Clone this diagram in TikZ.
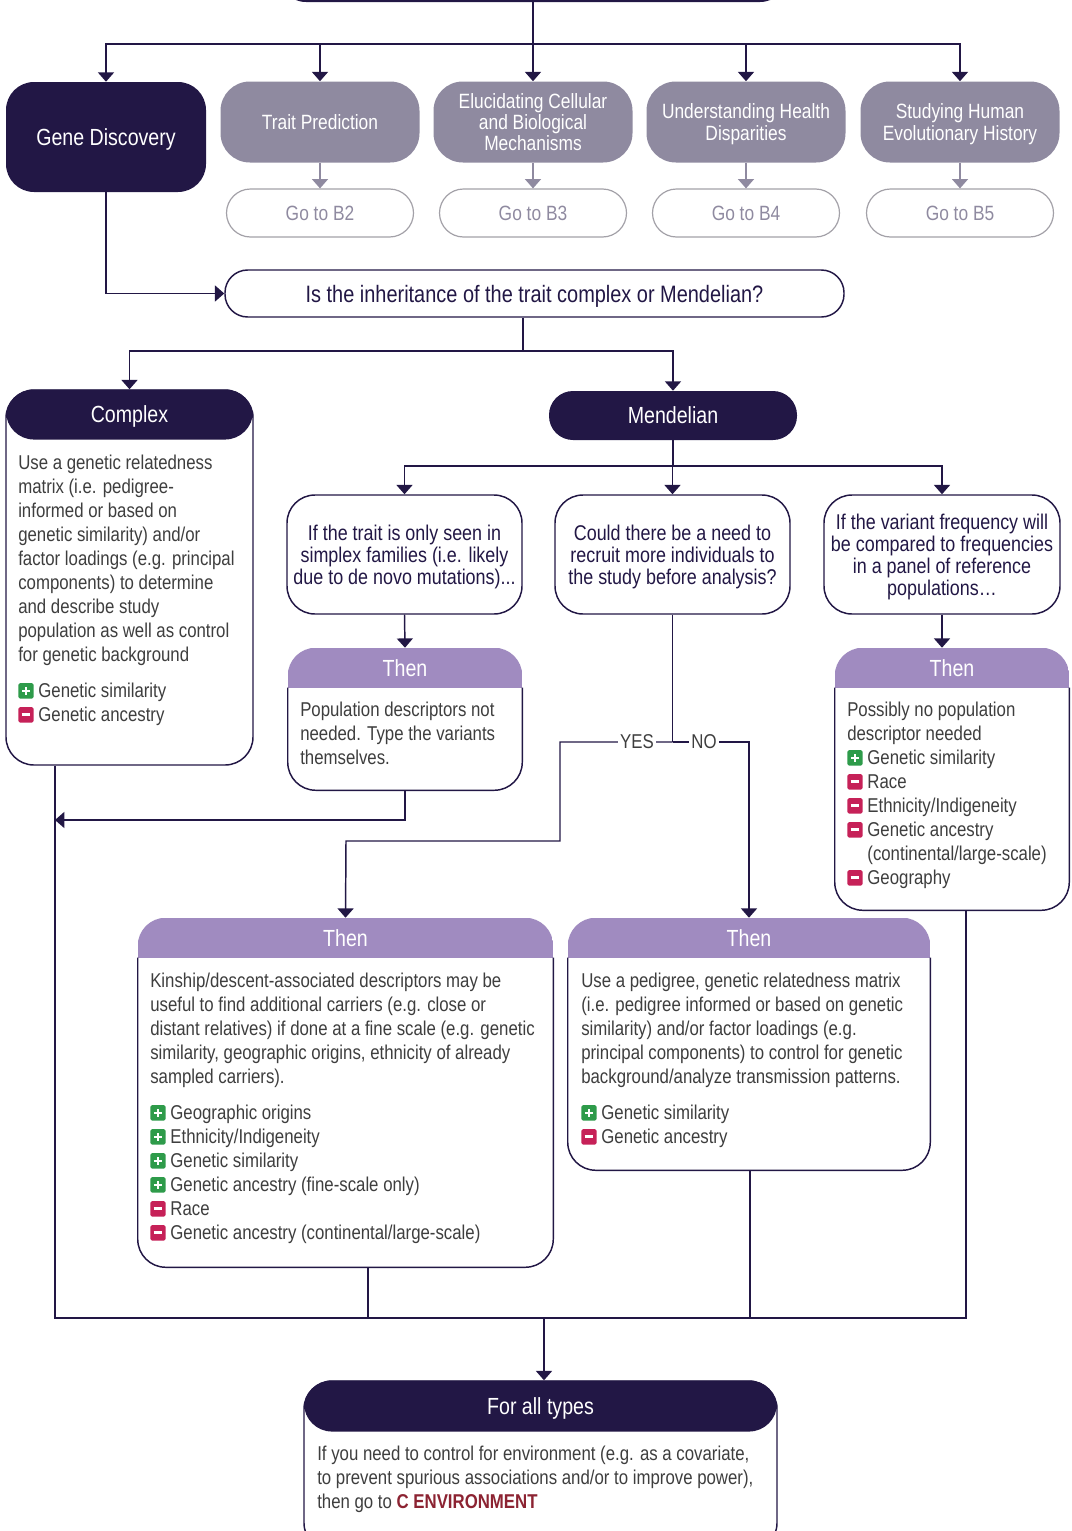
\documentclass[tikz,border=0pt]{standalone}
\usepackage{fontspec}
\setmainfont[FakeStretch=0.84]{Liberation Sans}
\usetikzlibrary{arrows.meta,calc,positioning}

\definecolor{navy}{HTML}{221745}
\definecolor{slate}{HTML}{8F8AA0}
\definecolor{gobord}{HTML}{A3A1A8}
\definecolor{lilac}{HTML}{A08BC0}
\definecolor{bodygrey}{HTML}{3E3E3E}
\definecolor{okgreen}{HTML}{2E9B4A}
\definecolor{badred}{HTML}{C62158}
\definecolor{envred}{HTML}{8C2332}

\newcommand{\txtbody}{\fontsize{15pt}{18pt}\selectfont}
\newcommand{\txthead}{\fontsize{17.5pt}{20pt}\selectfont}
\newcommand{\txtq}{\fontsize{16pt}{16.5pt}\selectfont}
\newcommand{\txttop}{\fontsize{15.5pt}{16pt}\selectfont}

\newcommand{\pluspic}{\tikz[baseline=0pt,x=1pt,y=1pt,line width=1.8pt]{\fill[okgreen,rounded corners=1.3pt] (0,-0.6) rectangle (11.6,11); \draw[white] (2.7,5.2) -- (8.9,5.2) (5.8,2.1) -- (5.8,8.3);}}
\newcommand{\minuspic}{\tikz[baseline=0pt,x=1pt,y=1pt,line width=2.1pt]{\fill[badred,rounded corners=1.3pt] (0,-0.6) rectangle (11.6,11); \draw[white] (2.5,5.2) -- (9.1,5.2);}}

\newcommand{\thenhead}[2]{%
  \begin{scope}
    \clip[rounded corners=21pt] (#1.north west) rectangle (#1.south east);
    \fill[lilac] (#1.north west) rectangle ($(#1.north east)+(0,40)$);
  \end{scope}
  \draw[conn, rounded corners=21pt] ($(#1.north west)+(0,40)$) -- (#1.south west) -- (#1.south east) -- ($(#1.north east)+(0,40)$);
  \node[headtxt] (#1head) at ($(#1.north)+(0,20)$) {#2};
}

\tikzset{
  conn/.style={draw=navy, line width=1.1pt},
  arr/.style={conn, -{Triangle[width=12pt,length=7pt]}},
  garr/.style={draw=slate, line width=1.1pt, -{Triangle[width=12pt,length=7pt]}},
  darkbox/.style={fill=navy, text=white, rounded corners=21pt, font=\txthead, inner sep=0pt, text depth=0pt},
  topbox/.style={fill=slate, text=white, rounded corners=22pt, font=\txttop, align=center, minimum width=149.25pt, minimum height=60.75pt, inner sep=0pt, text depth=0pt},
  gobox/.style={draw=gobord, line width=0.9pt, text=slate, rounded corners=18pt, font=\txttop, minimum width=140.25pt, minimum height=36pt, text depth=0pt},
  qbox/.style={draw=navy, line width=1.1pt, fill=white, text=navy, rounded corners=21pt, font=\txtq, align=center, inner sep=0pt, text depth=0pt},
  card/.style={fill=white, inner sep=0pt},
  headtxt/.style={text=white, font=\txthead, inner sep=0pt, text depth=0pt},
  body/.style={text=bodygrey, font=\txtbody, align=left, inner sep=0pt, anchor=north west},
  ynlabel/.style={fill=white, text=bodygrey, font=\txtbody, inner sep=1.5pt}
}

\begin{document}
\begin{tikzpicture}[x=0.75pt, y=-0.75pt]
  \useasboundingbox (0,0) rectangle (1071,1531);
  \clip (0,0) rectangle (1071,1531);

  \node[darkbox, minimum width=382.5pt, minimum height=60pt] (top) at (533,-38) {};

  \node[darkbox, minimum width=150pt, minimum height=82.5pt] (gd) at (106,137) {Gene Discovery};
  \node[topbox] (tp) at (320,122) {Trait Prediction};
  \node[topbox] (ec) at (533,122) {Elucidating Cellular\\and Biological\\Mechanisms};
  \node[topbox] (uh) at (746,122) {Understanding Health\\Disparities};
  \node[topbox] (sh) at (960,122) {Studying Human\\Evolutionary History};

  \node[gobox] (g2) at (320,213) {Go to B2};
  \node[gobox] (g3) at (533,213) {Go to B3};
  \node[gobox] (g4) at (746,213) {Go to B4};
  \node[gobox] (g5) at (960,213) {Go to B5};

  \node[qbox, font=\fontsize{17.8pt}{20pt}\selectfont, rounded corners=17pt, minimum width=464.25pt, minimum height=35.25pt] (qin) at (534.5,293.5) {Is the inheritance of the trait complex or Mendelian?};

  \node[card, draw=navy, line width=1.1pt, rounded corners=21pt, minimum width=185.25pt, minimum height=281.25pt] (cplx) at (129.5,577.5) {};
  \node[darkbox, minimum width=185.25pt, minimum height=37.5pt, anchor=north] (cplxhead) at (cplx.north) {Complex};
  \node[body] (cplxtxt) at (18,455) {Use a genetic relatedness\\matrix (i.e. pedigree-\\informed or based on\\genetic similarity) and/or\\factor loadings (e.g. principal\\components) to determine\\and describe study\\population as well as control\\for genetic background\\[9pt]\pluspic\ Genetic similarity\\\minuspic\ Genetic ancestry};

  \node[darkbox, rounded corners=18pt, minimum width=186pt, minimum height=36.75pt] (mend) at (673,415.5) {Mendelian};

  \node[qbox, minimum width=176.25pt, minimum height=89.25pt] (q1) at (404.5,554.5) {If the trait is only seen in\\simplex families (i.e. likely\\due to de novo mutations)...};
  \node[qbox, minimum width=176.25pt, minimum height=89.25pt] (q2) at (672.5,554.5) {Could there be a need to\\recruit more individuals to\\the study before analysis?};
  \node[qbox, minimum width=177pt, minimum height=89.25pt] (q3) at (942,554.5) {If the variant frequency will\\be compared to frequencies\\in a panel of reference\\populations…};

  \node[card, minimum width=175.5pt, minimum height=106.5pt] (th1) at (405,719) {};
  \thenhead{th1}{Then}
  \node[body] (th1txt) at (300,702) {Population descriptors not\\needed. Type the variants\\themselves.};

  \node[card, minimum width=175.5pt, minimum height=196.5pt] (th3) at (952,779) {};
  \thenhead{th3}{Then}
  \node[body] (th3txt) at (847,702) {Possibly no population\\descriptor needed\\\pluspic\ Genetic similarity\\\minuspic\ Race\\\minuspic\ Ethnicity/Indigeneity\\\minuspic\ Genetic ancestry\\\hspace*{15.1pt}(continental/large-scale)\\\minuspic\ Geography};

  \node[card, minimum width=311.25pt, minimum height=261.75pt] (th4) at (345.5,1092.5) {};
  \thenhead{th4}{Then}
  \node[body] (th4txt) at (150,973) {Kinship/descent-associated descriptors may be\\useful to find additional carriers (e.g. close or\\distant relatives) if done at a fine scale (e.g. genetic\\similarity, geographic origins, ethnicity of already\\sampled carriers).\\[9pt]\pluspic\ Geographic origins\\\pluspic\ Ethnicity/Indigeneity\\\pluspic\ Genetic similarity\\\pluspic\ Genetic ancestry (fine-scale only)\\\minuspic\ Race\\\minuspic\ Genetic ancestry (continental/large-scale)};

  \node[card, minimum width=271.5pt, minimum height=189pt] (th5) at (749,1044) {};
  \thenhead{th5}{Then}
  \node[body] (th5txt) at (581,973) {Use a pedigree, genetic relatedness matrix\\(i.e. pedigree informed or based on genetic\\similarity) and/or factor loadings (e.g.\\principal components) to control for genetic\\background/analyze transmission patterns.\\[9pt]\pluspic\ Genetic similarity\\\minuspic\ Genetic ancestry};

  \node[card, draw=navy, line width=1.1pt, rounded corners=21pt, minimum width=354.75pt, minimum height=127.5pt] (fa) at (540.5,1466) {};
  \node[darkbox, minimum width=354.75pt, minimum height=38.25pt, anchor=north] (fahead) at (fa.north) {For all types};
  \node[body] (fatxt) at (317,1446) {If you need to control for environment (e.g. as a covariate,\\to prevent spurious associations and/or to improve power),\\then go to \textcolor{envred}{\textbf{C ENVIRONMENT}}};

  \coordinate (hub) at (533,44);
  \draw[conn] (top.south) -- (hub);
  \foreach \n in {gd,tp,ec,uh,sh} \draw[arr] (hub) -| (\n.north);
  \foreach \a/\b in {tp/g2,ec/g3,uh/g4,sh/g5} \draw[garr] (\a.south) -- (\b.north);
  \draw[arr] (gd.south) |- (qin.west);

  \coordinate (split) at (523,351);
  \draw[conn] (qin.south -| split) -- (split);
  \draw[arr] (split) -| (cplx.north);
  \draw[arr] (split) -| (mend.north);

  \coordinate (msplit) at (673,466);
  \draw[conn] (mend.south) -- (msplit);
  \foreach \n in {q1,q2,q3} \draw[arr] (msplit) -| (\n.north);

  \draw[arr] (q1.south) -- (th1.north);
  \draw[arr] (q3.south) -- (q3.south |- th3.north);

  \coordinate (yn) at (672.5,742);
  \draw[conn] (q2.south) -- (yn);
  \draw[arr] (yn) -- (560,742) |- (346,841) -- (th4.north);
  \draw[arr] (yn) -| (th5.north);
  \node[ynlabel] (yes) at (637,742) {YES};
  \node[ynlabel] (no) at (704,742) {NO};

  \coordinate (lhit) at (55,820);
  \draw[arr] (th1.south) |- (lhit);

  \coordinate (bl) at (55,1318);
  \coordinate (br) at (966,1318);
  \coordinate (c4) at (368,1318);
  \coordinate (c5) at (750,1318);
  \coordinate (cin) at (544,1318);
  \draw[conn] (cplx.south -| bl) -- (bl) -- (br) -- (br |- th3.south);
  \draw[conn] (th4.south -| c4) -- (c4);
  \draw[conn] (th5.south -| c5) -- (c5);
  \draw[arr] (cin) -- (fa.north -| cin);
\end{tikzpicture}
\end{document}
